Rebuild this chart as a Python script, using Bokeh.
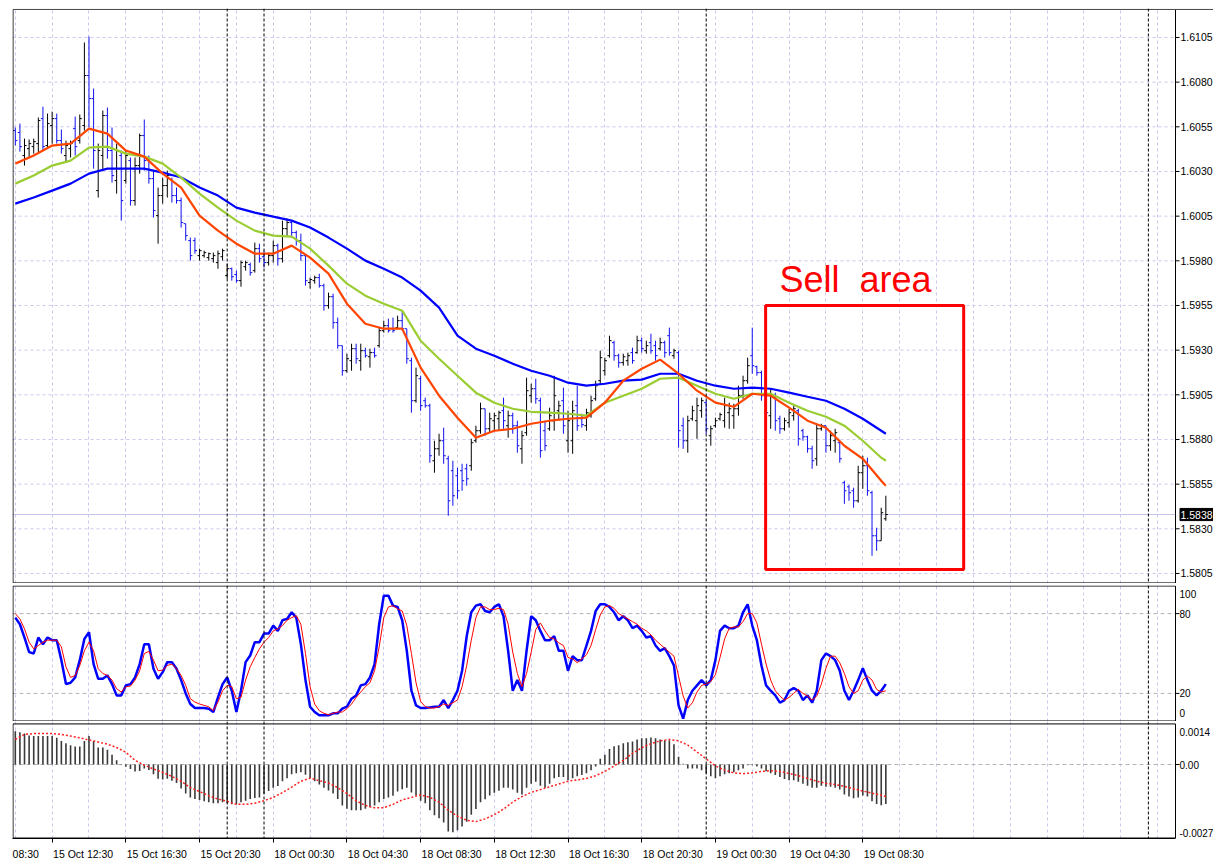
from bokeh.plotting import figure
from bokeh.models import (Range1d, FixedTicker, Span, Label, BoxAnnotation, ColumnDataSource,
                          CustomJSTickFormatter)
from bokeh.core.properties import value
from bokeh.layouts import column
from bokeh.embed import file_html
from bokeh.resources import INLINE

# ---------------- data (15-minute bars, 15 Oct 10:30 .. 19 Oct 09:45) ----------------
bar_open = [
1.60529,1.60518,1.60389,1.60428,1.60439,1.60456,1.60596,1.60445,1.60557,1.60596,
1.60473,1.60389,1.60428,1.60540,1.60473,1.60557,1.60837,1.60708,1.60193,1.60389,
1.60613,1.60417,1.60249,1.60389,1.60249,1.60361,1.60137,1.60333,1.60501,1.60361,
1.60260,1.60053,1.60165,1.60221,1.60277,1.60165,1.60137,1.60008,1.59913,1.59913,
1.59829,1.59829,1.59818,1.59812,1.59790,1.59823,1.59717,1.59756,1.59723,1.59689,
1.59767,1.59779,1.59745,1.59868,1.59823,1.59790,1.59829,1.59885,1.59812,1.59980,
1.60014,1.59958,1.59913,1.59829,1.59678,1.59689,1.59706,1.59661,1.59549,1.59599,
1.59454,1.59325,1.59185,1.59241,1.59308,1.59241,1.59297,1.59263,1.59286,1.59325,
1.59409,1.59437,1.59420,1.59426,1.59465,1.59420,1.59241,1.59017,1.59140,1.59017,
1.58989,1.58681,1.58748,1.58793,1.58692,1.58625,1.58597,1.58625,1.58636,1.58653,
1.58793,1.58849,1.58972,1.58860,1.58905,1.58916,1.58961,1.58877,1.58933,1.58877,
1.58748,1.58838,1.59045,1.59084,1.59017,1.58849,1.58860,1.58905,1.58961,1.59017,
1.58793,1.58793,1.58989,1.58916,1.58877,1.58933,1.59028,1.59129,1.59185,1.59269,
1.59342,1.59269,1.59230,1.59241,1.59286,1.59286,1.59353,1.59297,1.59342,1.59325,
1.59308,1.59342,1.59381,1.59269,1.59286,1.58877,1.58793,1.58916,1.58905,1.58961,
1.59006,1.58821,1.58877,1.58916,1.58905,1.58950,1.58933,1.58972,1.59045,1.59129,
1.59269,1.59207,1.59174,1.59073,1.58933,1.59045,1.58916,1.58860,1.58894,1.58933,
1.58961,1.58849,1.58815,1.58748,1.58692,1.58860,1.58877,1.58765,1.58793,1.58782,
1.58558,1.58535,1.58513,1.58457,1.58614,1.58653,1.58502,1.58261,1.58233,1.58356]
bar_high = [
1.60546,1.60568,1.60484,1.60479,1.60484,1.60602,1.60663,1.60624,1.60635,1.60624,
1.60535,1.60473,1.60473,1.60607,1.60619,1.61022,1.61055,1.60764,1.60456,1.60641,
1.60658,1.60546,1.60456,1.60417,1.60417,1.60378,1.60378,1.60512,1.60591,1.60389,
1.60305,1.60210,1.60266,1.60305,1.60266,1.60210,1.60154,1.60008,1.59930,1.59930,
1.59868,1.59857,1.59846,1.59846,1.59857,1.59868,1.59784,1.59762,1.59745,1.59801,
1.59801,1.59790,1.59902,1.59896,1.59857,1.59846,1.59913,1.59896,1.60025,1.60036,
1.60025,1.59969,1.59952,1.59829,1.59706,1.59717,1.59728,1.59672,1.59622,1.59616,
1.59482,1.59325,1.59280,1.59336,1.59336,1.59336,1.59314,1.59308,1.59314,1.59426,
1.59465,1.59476,1.59482,1.59493,1.59521,1.59420,1.59258,1.59202,1.59157,1.59034,
1.59000,1.58793,1.58832,1.58866,1.58709,1.58681,1.58642,1.58664,1.58664,1.58804,
1.58877,1.59006,1.58972,1.58950,1.58950,1.58961,1.59034,1.58961,1.58950,1.58905,
1.58849,1.59146,1.59112,1.59140,1.59034,1.58905,1.58978,1.59157,1.59017,1.59090,
1.58961,1.59017,1.59101,1.58944,1.58972,1.59045,1.59129,1.59297,1.59258,1.59381,
1.59353,1.59280,1.59280,1.59286,1.59314,1.59381,1.59370,1.59353,1.59392,1.59353,
1.59370,1.59353,1.59426,1.59308,1.59297,1.58922,1.58933,1.58989,1.59034,1.59034,
1.59017,1.58877,1.58922,1.58950,1.59034,1.59006,1.59000,1.59101,1.59157,1.59258,
1.59426,1.59213,1.59185,1.59090,1.59084,1.59062,1.58933,1.58922,1.58972,1.58989,
1.58972,1.58860,1.58821,1.58765,1.58888,1.58888,1.58877,1.58849,1.58860,1.58793,
1.58569,1.58547,1.58530,1.58653,1.58709,1.58698,1.58513,1.58306,1.58418,1.58485]
bar_low = [
1.60445,1.60411,1.60333,1.60378,1.60400,1.60406,1.60417,1.60434,1.60456,1.60456,
1.60400,1.60350,1.60378,1.60389,1.60456,1.60529,1.60546,1.60316,1.60154,1.60305,
1.60372,1.60238,1.60176,1.60025,1.60232,1.60109,1.60109,1.60288,1.60305,1.60232,
1.60042,1.59896,1.60120,1.60154,1.60126,1.60120,1.59986,1.59913,1.59801,1.59840,
1.59801,1.59818,1.59801,1.59790,1.59756,1.59801,1.59700,1.59689,1.59678,1.59655,
1.59745,1.59717,1.59734,1.59790,1.59762,1.59773,1.59790,1.59773,1.59790,1.59941,
1.59930,1.59885,1.59801,1.59661,1.59644,1.59672,1.59650,1.59521,1.59532,1.59420,
1.59308,1.59157,1.59174,1.59185,1.59224,1.59185,1.59258,1.59202,1.59258,1.59314,
1.59398,1.59398,1.59398,1.59420,1.59409,1.59224,1.58950,1.59006,1.58961,1.58978,
1.58670,1.58614,1.58709,1.58664,1.58373,1.58429,1.58468,1.58513,1.58541,1.58625,
1.58782,1.58832,1.58821,1.58838,1.58849,1.58849,1.58860,1.58810,1.58832,1.58726,
1.58664,1.58821,1.59006,1.59000,1.58698,1.58737,1.58849,1.58849,1.58905,1.58832,
1.58726,1.58720,1.58849,1.58866,1.58849,1.58922,1.59017,1.59112,1.59157,1.59258,
1.59241,1.59202,1.59213,1.59213,1.59224,1.59280,1.59286,1.59280,1.59280,1.59241,
1.59297,1.59258,1.59269,1.59252,1.58754,1.58748,1.58726,1.58905,1.58804,1.58922,
1.58832,1.58765,1.58866,1.58905,1.58866,1.58860,1.58860,1.58933,1.59028,1.59112,
1.59168,1.59157,1.59017,1.58905,1.58860,1.58849,1.58832,1.58849,1.58866,1.58905,
1.58765,1.58793,1.58726,1.58636,1.58653,1.58849,1.58726,1.58737,1.58726,1.58670,
1.58440,1.58457,1.58418,1.58446,1.58524,1.58485,1.58149,1.58177,1.58233,1.58345]
bar_close = [
1.60473,1.60439,1.60445,1.60456,1.60467,1.60585,1.60439,1.60568,1.60596,1.60473,
1.60428,1.60445,1.60456,1.60439,1.60596,1.60837,1.60708,1.60417,1.60417,1.60613,
1.60417,1.60277,1.60417,1.60137,1.60389,1.60137,1.60333,1.60501,1.60361,1.60260,
1.60081,1.60165,1.60221,1.60277,1.60165,1.60137,1.60014,1.59941,1.59829,1.59857,
1.59857,1.59846,1.59840,1.59829,1.59840,1.59857,1.59756,1.59711,1.59689,1.59790,
1.59790,1.59734,1.59868,1.59812,1.59790,1.59829,1.59885,1.59812,1.59980,1.60014,
1.59958,1.59913,1.59829,1.59689,1.59695,1.59706,1.59661,1.59549,1.59599,1.59454,
1.59325,1.59185,1.59252,1.59308,1.59252,1.59297,1.59269,1.59286,1.59269,1.59409,
1.59437,1.59409,1.59409,1.59465,1.59420,1.59252,1.59017,1.59157,1.58989,1.58989,
1.58709,1.58748,1.58793,1.58709,1.58457,1.58485,1.58513,1.58569,1.58580,1.58782,
1.58849,1.58972,1.58860,1.58916,1.58933,1.58950,1.58905,1.58933,1.58877,1.58765,
1.58821,1.59073,1.59084,1.59028,1.58737,1.58765,1.58933,1.59045,1.58989,1.58877,
1.58905,1.58961,1.58877,1.58883,1.58950,1.59017,1.59101,1.59258,1.59241,1.59353,
1.59269,1.59230,1.59263,1.59269,1.59241,1.59353,1.59308,1.59325,1.59297,1.59269,
1.59342,1.59286,1.59286,1.59297,1.58849,1.58793,1.58905,1.58961,1.58989,1.59017,
1.58860,1.58860,1.58905,1.58939,1.58989,1.58972,1.58972,1.59045,1.59129,1.59213,
1.59213,1.59174,1.59045,1.58950,1.59045,1.58905,1.58860,1.58905,1.58950,1.58972,
1.58804,1.58815,1.58748,1.58681,1.58860,1.58877,1.58765,1.58821,1.58838,1.58692,
1.58513,1.58502,1.58457,1.58614,1.58653,1.58513,1.58261,1.58233,1.58390,1.58380]

# moving averages, read every 4th bar
ma_idx = list(range(0, 189, 4)) + [189]
ma_fast = [1.60344,1.60389,1.60445,1.60456,1.60540,1.60512,1.60417,1.60383,1.60288,1.60210,
           1.60053,1.59969,1.59896,1.59840,1.59840,1.59885,1.59818,1.59728,1.59560,1.59448,
           1.59420,1.59420,1.59202,1.59045,1.58922,1.58810,1.58849,1.58860,1.58888,1.58905,
           1.58916,1.58922,1.59006,1.59129,1.59196,1.59247,1.59168,1.59073,1.59006,1.58983,
           1.59056,1.59045,1.58978,1.58905,1.58866,1.58765,1.58692,1.58569,1.58541]
ma_mid = [1.60232,1.60277,1.60333,1.60361,1.60434,1.60439,1.60400,1.60383,1.60344,1.60266,
          1.60176,1.60098,1.60025,1.59969,1.59941,1.59935,1.59868,1.59773,1.59672,1.59605,
          1.59560,1.59521,1.59353,1.59252,1.59157,1.59062,1.59006,1.58972,1.58955,1.58950,
          1.58944,1.58933,1.59006,1.59045,1.59084,1.59140,1.59146,1.59101,1.59056,1.59028,
          1.59056,1.59056,1.59006,1.58961,1.58927,1.58877,1.58793,1.58698,1.58681]
ma_slow = [1.60120,1.60154,1.60193,1.60232,1.60288,1.60316,1.60316,1.60316,1.60294,1.60266,
           1.60210,1.60165,1.60098,1.60070,1.60047,1.60025,1.59986,1.59930,1.59868,1.59801,
           1.59756,1.59706,1.59633,1.59538,1.59381,1.59308,1.59269,1.59224,1.59185,1.59157,
           1.59118,1.59101,1.59112,1.59129,1.59135,1.59168,1.59168,1.59129,1.59101,1.59084,
           1.59090,1.59084,1.59062,1.59039,1.59017,1.58972,1.58916,1.58849,1.58832]

stoch_k = [77,72,62,51,50,62,57,62,60,60, 45,27,28,32,45,61,66,42,31,31,
           33.5,27,18.5,18.5,26,27,32,42,57,57, 38.5,31,36,43.5,43.5,38.5,30,20,12,9,
           9,9,8.5,6,17,27,32,22,6,22, 43.5,48.5,58.5,58.5,65,65,71,67,75,76,
           81,77,57,30,10,6,3.5,3.5,3.5,5, 5,8.5,10,16,18.5,26,27,32,42,72,
           93.5,93.5,86,85,75,52,22,11,9,9, 9.5,10,10,15,9,15,22,37,63,81,
           86,87,82,81,85,87,78,52,22,30, 22,52,78,75,67,60,60,63,52,52,
           37,48,45,45,56,67,82,87,87,85, 81,75,78,75,69,71,67,62,63,56,
           52,54,48,41,11,1,15,22,26,30, 26,30,45,67,71,69,69,71,81,87,
           71,60,41,26,22,18.5,13,15,22,24, 22,15,18.5,13,22,45,50,48,45,37,
           22,15,22,30,39,30,22,18.5,22,27]
stoch_d = [80,76,68.5,58.5,53.5,56,58.5,60,60,60, 55,40,32,33.5,41,52,58.5,52,38.5,35,
           33.5,30,23.5,21,25,25.5,30,37,50,51.5, 45,37,37.5,41,42,38.5,33.5,26,16,13.5,
           12,11,10,7,13.5,22,26,25,16,17, 30,40,47,53.5,58.5,62,67,68.5,71,75,
           77,78.5,72,50,25,12,7,5,4,5, 6,6,8.5,12,17,21,25,28,37,55,
           77,85,86,83.5,82,71,50,28,14,10, 9,9,10,12,11,13,15,25,41,60,
           77,85,85,83,83,84,83,72,51,35, 25,35,51,68,73,67,62,61,58,56,
           47,46,43,46,49,56,68,79,85,86, 84,80,78,76,74,72,69,67,64,60,
           57,54,51,48,33,18,9,13,21,26, 27,29,34,47,61,69,70,70,74,80,
           80,73,57,42,30,22,18,15,17,20, 23,20,18,15,18,27,39,48,48,43,
           35,25,20,22,30,33,30,23,21,22]

macd_hist = [
0.00119,0.00116,0.00111,0.00104,0.00102,0.00102,0.00102,0.00102,0.00102,0.00096,
0.00084,0.00076,0.00069,0.00065,0.00065,0.00084,0.00102,0.00084,0.00061,0.00061,
0.00053,0.00035,0.00015,-0.00002,-0.00008,-0.00016,-0.00025,-0.00023,-0.00014,-0.00020,
-0.00035,-0.00051,-0.00054,-0.00051,-0.00058,-0.00066,-0.00086,-0.00104,-0.00118,-0.00124,
-0.00127,-0.00132,-0.00135,-0.00139,-0.00139,-0.00135,-0.00139,-0.00143,-0.00143,-0.00135,
-0.00130,-0.00124,-0.00120,-0.00118,-0.00104,-0.00095,-0.00083,-0.00077,-0.00060,-0.00049,
-0.00035,-0.00031,-0.00028,-0.00037,-0.00049,-0.00060,-0.00072,-0.00083,-0.00093,-0.00104,
-0.00124,-0.00147,-0.00159,-0.00164,-0.00164,-0.00164,-0.00159,-0.00153,-0.00147,-0.00135,
-0.00124,-0.00118,-0.00112,-0.00097,-0.00089,-0.00083,-0.00100,-0.00112,-0.00130,-0.00139,
-0.00164,-0.00182,-0.00193,-0.00208,-0.00240,-0.00243,-0.00236,-0.00222,-0.00205,-0.00180,
-0.00160,-0.00135,-0.00125,-0.00111,-0.00101,-0.00094,-0.00083,-0.00083,-0.00090,-0.00101,
-0.00108,-0.00083,-0.00069,-0.00062,-0.00076,-0.00083,-0.00069,-0.00049,-0.00045,-0.00045,
-0.00056,-0.00049,-0.00042,-0.00038,-0.00031,-0.00021,-0.00007,0.00021,0.00035,0.00056,
0.00066,0.00069,0.00076,0.00080,0.00083,0.00090,0.00094,0.00094,0.00097,0.00094,
0.00090,0.00087,0.00087,0.00073,0.00028,0.00003,-0.00014,-0.00014,-0.00014,-0.00021,
-0.00031,-0.00042,-0.00049,-0.00042,-0.00035,-0.00031,-0.00028,-0.00021,-0.00014,-0.00003,
-0.00003,-0.00007,-0.00014,-0.00024,-0.00031,-0.00038,-0.00045,-0.00052,-0.00056,-0.00056,
-0.00062,-0.00069,-0.00076,-0.00083,-0.00083,-0.00076,-0.00080,-0.00080,-0.00083,-0.00090,
-0.00108,-0.00115,-0.00121,-0.00118,-0.00111,-0.00115,-0.00132,-0.00142,-0.00146,-0.00142]
sig_idx = list(range(0, 189, 2)) + [189]
macd_signal = [
0.00090,0.00108,0.00111,0.00111,0.00111,0.00108,0.00102,0.00096,0.00088,0.00081,
0.00073,0.00061,0.00044,0.00015,-0.00002,-0.00016,-0.00028,-0.00043,-0.00060,-0.00083,
-0.00097,-0.00112,-0.00124,-0.00132,-0.00143,-0.00143,-0.00139,-0.00130,-0.00118,-0.00101,
-0.00081,-0.00060,-0.00049,-0.00058,-0.00066,-0.00083,-0.00104,-0.00130,-0.00147,-0.00155,
-0.00155,-0.00143,-0.00127,-0.00118,-0.00109,-0.00118,-0.00135,-0.00164,-0.00185,-0.00200,
-0.00205,-0.00195,-0.00180,-0.00160,-0.00135,-0.00115,-0.00100,-0.00090,-0.00080,-0.00070,
-0.00060,-0.00055,-0.00050,-0.00040,-0.00025,-0.00005,0.00015,0.00040,0.00060,0.00075,
0.00085,0.00090,0.00085,0.00070,0.00045,0.00020,-0.00005,-0.00020,-0.00030,-0.00033,
-0.00030,-0.00025,-0.00022,-0.00025,-0.00032,-0.00040,-0.00050,-0.00060,-0.00067,-0.00072,
-0.00078,-0.00087,-0.00095,-0.00103,-0.00110,-0.00115]

price_ticks = [1.6105, 1.6080, 1.6055, 1.6030, 1.6005, 1.5980, 1.5955, 1.5930,
               1.5905, 1.5880, 1.5855, 1.5830, 1.5805]
stoch_levels = [80, 20]
stoch_scale_txt = ["100", "80", "20", "0"]
macd_scale_txt = ["0.0014", "0.00", "-0.0027"]
time_tick_idx = [8, 24, 40, 56, 72, 88, 104, 120, 136, 152, 168, 184]
time_tick_labels = ["15 Oct 12:30", "15 Oct 16:30", "15 Oct 20:30", "18 Oct 00:30",
                    "18 Oct 04:30", "18 Oct 08:30", "18 Oct 12:30", "18 Oct 16:30",
                    "18 Oct 20:30", "19 Oct 00:30", "19 Oct 04:30", "19 Oct 08:30"]
day_separators = [46, 54, 150, 246]
last_price = 1.5838

# ---------------- geometry / styling ----------------
FONT = "Liberation Sans"
FS = "10.5px"
FS_SUB = "10px"
GRID = "#c9c9ee"
PX = 4.606                       # pixels per bar
X0 = -0.608                      # left edge of the chart frame
XB = 251.89                      # right border of the chart (price scale starts here)
xr = Range1d(X0, X0 + 1201 / PX)
grid_x = list(range(0, 252, 8))
idx = list(range(len(bar_close)))


def make_fig(height, yr, top, bottom, xaxis):
    p = figure(width=1213, height=height, x_range=xr, y_range=yr,
               toolbar_location=None, output_backend="svg",
               x_axis_location="below" if xaxis else None, y_axis_location=None,
               min_border_left=12, min_border_right=0,
               min_border_top=top, min_border_bottom=bottom)
    p.outline_line_color = None
    p.background_fill_color = "white"
    p.border_fill_color = "white"
    p.ygrid.grid_line_color = None
    p.xgrid.ticker = FixedTicker(ticks=grid_x)
    p.xgrid.grid_line_color = GRID
    p.xgrid.grid_line_dash = "3 3"
    for d in day_separators:
        p.add_layout(Span(location=d, dimension="height", line_color="black",
                          line_width=1, line_dash="3 2"))
    return p


def borders(p, y_top, y_bot, top_to_edge=False):
    xl = X0 + 0.5 / PX
    p.segment(x0=[xl, XB, xl], y0=[y_bot, y_bot, y_bot], x1=[xl, XB, XB], y1=[y_top, y_top, y_bot],
              line_color="black", line_width=1)
    p.segment(x0=[xl], y0=[y_top], x1=[xr.end if top_to_edge else XB], y1=[y_top],
              line_color="#404040" if top_to_edge else "black", line_width=1)


def level_lines(p, levels, color, dash):
    n = len(levels)
    p.segment(x0=[X0] * n, y0=levels, x1=[XB] * n, y1=levels,
              line_color=color, line_width=1, line_dash=dash)


def right_scale(p, tick_vals, label_vals, texts, size, offset):
    n = len(tick_vals)
    if n:
        p.segment(x0=[XB] * n, y0=tick_vals, x1=[XB + 4 / PX] * n, y1=tick_vals,
                  line_color="black", line_width=1)
    p.text(x=[XB] * len(texts), y=label_vals, text=texts, x_offset=offset,
           text_font=value(FONT), text_font_size=size, text_color="black",
           text_align="left", text_baseline="middle")


# ---------------- main price panel ----------------
p1 = make_fig(583, Range1d(1.579939, 1.612122), 8, 0, False)
level_lines(p1, price_ticks, GRID, "3 3")
p1.segment(x0=[X0], y0=[last_price], x1=[XB], y1=[last_price], line_color="#c4c4ec", line_width=1)

src = ColumnDataSource(dict(
    x=idx,
    xl=[i - 0.45 for i in idx],
    xr=[i + 0.45 for i in idx],
    o=bar_open, h=bar_high, l=bar_low, c=bar_close,
    col=["black" if c >= o else "#1010f0" for o, c in zip(bar_open, bar_close)],
))
p1.segment(x0="x", y0="l", x1="x", y1="h", line_color="col", line_width=1, source=src)
p1.segment(x0="xl", y0="o", x1="x", y1="o", line_color="col", line_width=1, source=src)
p1.segment(x0="x", y0="c", x1="xr", y1="c", line_color="col", line_width=1, source=src)

p1.line(ma_idx, ma_slow, line_color="#0000ff", line_width=2.2)
p1.line(ma_idx, ma_mid, line_color="#9acd32", line_width=2.2)
p1.line(ma_idx, ma_fast, line_color="#ff4500", line_width=2.2)

borders(p1, 1.61207, 1.57997, top_to_edge=True)
right_scale(p1, price_ticks, price_ticks, ["%.4f" % t for t in price_ticks], FS, 5)
p1.quad(left=[XB + 4.5 / PX], right=[XB + 40 / PX], top=[last_price + 0.00034],
        bottom=[last_price - 0.00034], fill_color="black", line_color="black")
p1.text(x=[XB], y=[last_price], text=["%.4f" % last_price], x_offset=5,
        text_font=value(FONT), text_font_size=FS, text_color="white",
        text_align="left", text_baseline="middle")

p1.add_layout(BoxAnnotation(left=162.9, right=205.9, top=1.5955, bottom=1.58072,
                            fill_alpha=0, line_color="#ff0000", line_alpha=1, line_width=3))
p1.add_layout(Label(x=165.9, y=1.59695, text="Sell\u00a0 area", text_font=FONT,
                    text_font_size="36px", text_color="#ff0000", text_baseline="alphabetic"))

# ---------------- stochastic panel ----------------
p2 = make_fig(138, Range1d(-1.13, 101.13), 2, 0, False)
level_lines(p2, stoch_levels, "#b4b4b4", "4 3")
p2.line(idx, stoch_k, line_color="#0000ff", line_width=2.5)
p2.line(idx, stoch_d, line_color="#ff0000", line_width=1)
borders(p2, 100.75, -0.75)
right_scale(p2, stoch_levels, [95.1, 80, 20, 4.9], stoch_scale_txt, FS_SUB, 4)

# ---------------- MACD panel ----------------
p3 = make_fig(141, Range1d(-0.002655, 0.001544), 0, 20, True)
level_lines(p3, [0.0], "#b4b4b4", "4 3")
p3.segment(x0=idx, y0=[0] * len(idx), x1=idx, y1=macd_hist, line_color="#3a3a3a", line_width=1.6)
p3.line(sig_idx, macd_signal, line_color="#ff2020", line_width=1.5, line_dash="2 2")
borders(p3, 0.001457, -0.002638)
right_scale(p3, [0.0], [0.001173, 0.0, -0.002471], macd_scale_txt, FS_SUB, 4)

# time axis: each label starts at its tick, so its centre sits half a label to the right
LABEL_SHIFT = 31 / PX
time_label_pos = [(12 + 13.2 - 14.8) / PX] + [t + LABEL_SHIFT for t in time_tick_idx]
time_label_txt = ["08:30"] + time_tick_labels
p3.xaxis.bounds = (X0, XB)
p3.xaxis.ticker = FixedTicker(ticks=time_label_pos, minor_ticks=time_tick_idx)
p3.xaxis.formatter = CustomJSTickFormatter(
    args=dict(pos=time_label_pos, lab=time_label_txt),
    code="const i = pos.findIndex((p) => Math.abs(p - tick) < 1e-9); return i < 0 ? '' : lab[i];")
p3.xaxis.major_tick_in = 0
p3.xaxis.major_tick_out = 0
p3.xaxis.minor_tick_in = 0
p3.xaxis.minor_tick_out = 4
p3.xaxis.minor_tick_line_color = "black"
p3.xaxis.axis_line_color = "black"
p3.xaxis.major_label_standoff = 5
p3.xaxis.major_label_text_font = FONT
p3.xaxis.major_label_text_font_size = FS
p3.xaxis.major_label_text_color = "black"

layout = column(p1, p2, p3, spacing=0)
open("out.html", "w").write(file_html(layout, INLINE))
